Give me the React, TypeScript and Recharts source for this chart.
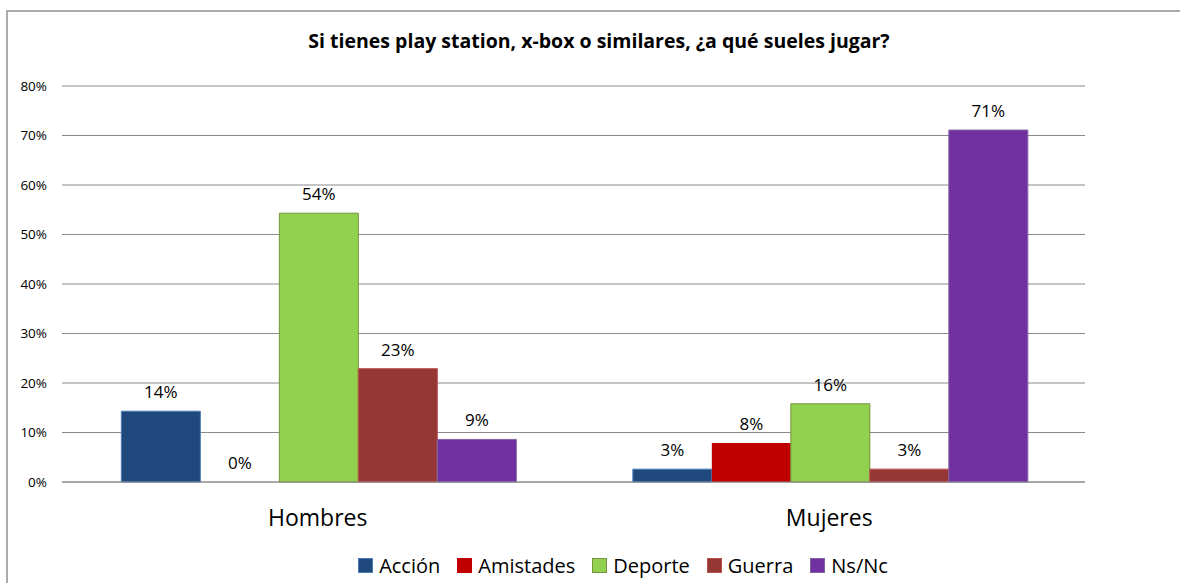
import { BarChart, Bar, XAxis, YAxis, CartesianGrid, LabelList } from "recharts";

const categories = ["Hombres", "Mujeres"];
const seriesNames = ["Acción", "Amistades", "Deporte", "Guerra", "Ns/Nc"];
const accion = [14.3, 2.6];
const amistades = [0, 7.9];
const deporte = [54.3, 15.8];
const guerra = [22.9, 2.6];
const nsnc = [8.6, 71.1];
const yTicks = [0, 10, 20, 30, 40, 50, 60, 70, 80];

const fills = ["#1F497D", "#C00000", "#92D050", "#953735", "#7030A0"];
const strokes = ["#4A7EBB", "none", "#77933C", "#C0504D", "#8064A2"];

const seriesValues = [accion, amistades, deporte, guerra, nsnc];

const data = categories.map((c, i) => {
  const row: Record<string, string | number> = { name: c };
  seriesNames.forEach((s, k) => {
    row[s] = seriesValues[k][i];
  });
  return row;
});

const FONT = "'Open Sans', sans-serif";

function ChartLegend() {
  return (
    <div
      style={{
        position: "absolute",
        left: 0,
        width: 1246,
        top: 550,
        height: 30,
        display: "flex",
        justifyContent: "center",
        alignItems: "center",
        gap: 17,
        fontFamily: FONT,
        fontSize: 20,
        color: "#000",
      }}
    >
      {seriesNames.map((s, k) => (
        <span key={s} style={{ display: "inline-flex", alignItems: "center" }}>
          <span
            style={{
              display: "inline-block",
              width: 13,
              height: 13,
              background: fills[k],
              border: `1px solid ${strokes[k] === "none" ? fills[k] : strokes[k]}`,
              marginRight: 6,
            }}
          />
          {s}
        </span>
      ))}
    </div>
  );
}

export default function App() {
  return (
    <div style={{ position: "absolute", left: 0, top: 0, width: 1180, height: 583, background: "#fff", overflow: "hidden" }}>
      <div
        style={{
          position: "absolute",
          left: 6,
          top: 10,
          width: 1200,
          height: 600,
          borderTop: "2px solid #ababab",
          borderLeft: "2px solid #ababab",
        }}
      />
      <div
        style={{
          position: "absolute",
          left: 0,
          width: 1198,
          top: 27,
          textAlign: "center",
          fontFamily: FONT,
          fontWeight: "bold",
          fontSize: 19.5,
          color: "#000",
        }}
      >
        Si tienes play station, x-box o similares, ¿a qué sueles jugar?
      </div>
      <BarChart
        width={1180}
        height={583}
        data={data}
        margin={{ top: 86, right: 95, bottom: 71, left: 0 }}
        barCategoryGap="11.6%"
        barGap={0}
        style={{ position: "absolute", left: 0, top: 0 }}
      >
        <CartesianGrid vertical={false} stroke="#8a8a8a" strokeWidth={1} />
        <YAxis
          width={62}
          domain={[0, 80]}
          ticks={yTicks}
          tickFormatter={(v: number) => `${v}%`}
          axisLine={false}
          tickLine={false}
          tickSize={0}
          tickMargin={15}
          tick={{ fill: "#000", fontSize: 13.5, fontFamily: FONT }}
        />
        <XAxis
          dataKey="name"
          height={30}
          axisLine={{ stroke: "#8a8a8a" }}
          tickLine={false}
          tickSize={0}
          tickMargin={28}
          tick={{ fill: "#000", fontSize: 23, fontFamily: FONT }}
        />
        {seriesNames.map((s, k) => (
          <Bar
            key={s}
            dataKey={s}
            fill={fills[k]}
            stroke={strokes[k]}
            strokeWidth={1}
            minPointSize={0.01}
            isAnimationActive={false}
          >
            <LabelList
              dataKey={s}
              position="top"
              offset={13}
              formatter={(v: number) => `${Math.round(v)}%`}
              style={{ fill: "#000", fontSize: 17, fontFamily: FONT }}
            />
          </Bar>
        ))}
      </BarChart>
      <ChartLegend />
    </div>
  );
}
